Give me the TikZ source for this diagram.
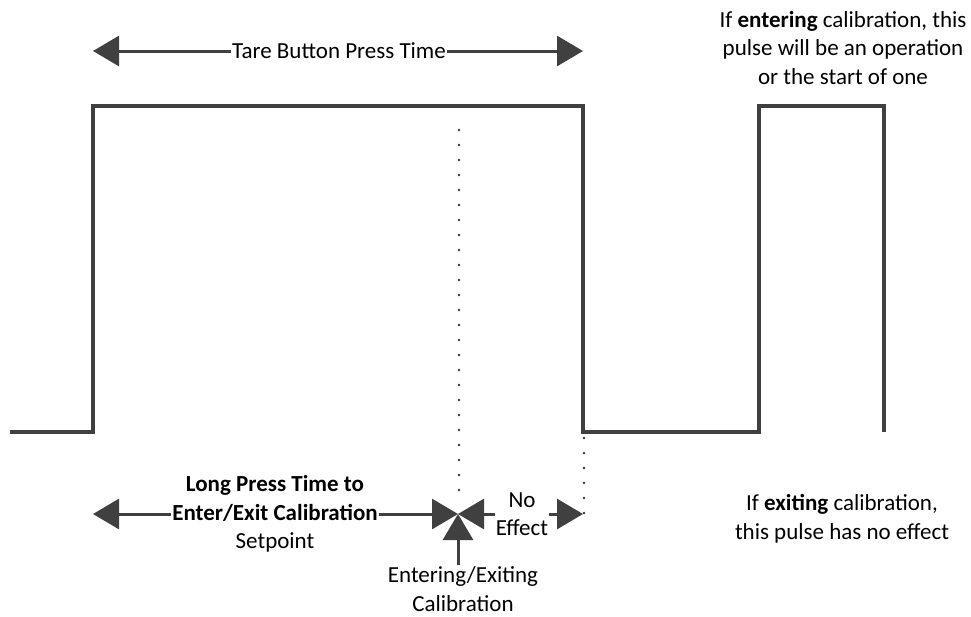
\documentclass[tikz,border=0pt]{standalone}
\usepackage{fontspec}
\setmainfont{Carlito}
\usetikzlibrary{arrows.meta}
\definecolor{ink}{HTML}{404040}
\tikzset{
  sig/.style={draw=ink, line width=3.6pt, line join=miter},
  arr/.style={draw=ink, line width=3pt, -{Triangle[length=26pt,width=30pt]}},
  dots/.style={draw=black!80, line width=2.6pt, line cap=round, dash pattern=on 0pt off 15pt},
  lbl/.style={font=\fontsize{23}{28.5}\selectfont, align=center, text=black, inner sep=1pt}
}
\begin{document}
\begin{tikzpicture}[x=1pt,y=-1pt]
\useasboundingbox (0,0) rectangle (971,616);
% signal
\draw[sig] (10,432) -- (93,432) -- (93,106) -- (583,106) -- (583,432) -- (759,432) -- (759,106) -- (884,106) -- (884,432);
% dotted lines
\draw[dots] (459,130) -- (459,500);
\draw[dots] (584,438) -- (584,514);
% top arrow
\node[lbl] (tare) at (339,51) {Tare Button Press Time};
\coordinate (tl) at (93,51);
\coordinate (tr) at (583,51);
\draw[arr] (tare.west) -- (tl);
\draw[arr] (tare.east) -- (tr);
% long press
\node[lbl] (long) at (275,514) {\textbf{Long Press Time to}\\\textbf{Enter/Exit Calibration}\\Setpoint};
\coordinate (bl) at (93,514);
\coordinate (cE) at (458,514);
\coordinate (cN) at (583,514);
\draw[arr] (long.west) -- (bl);
\draw[arr] (long.east) -- (cE);
% no effect
\node[lbl] (noeff) at (522,514) {No\\Effect};
\draw[arr] (noeff.west) -- (cE);
\draw[arr] (noeff.east) -- (cN);
% entering/exiting
\node[lbl] (ent) at (463,589) {Entering/Exiting\\Calibration};
\draw[arr] (ent.north -| cE) -- (cE);
% right notes
\node[lbl] (enter) at (843,48) {If \textbf{entering} calibration, this\\pulse will be an operation\\or the start of one};
\node[lbl] (exit) at (842,519) {If \textbf{exiting} calibration,\\this pulse has no effect};
\end{tikzpicture}
\end{document}
